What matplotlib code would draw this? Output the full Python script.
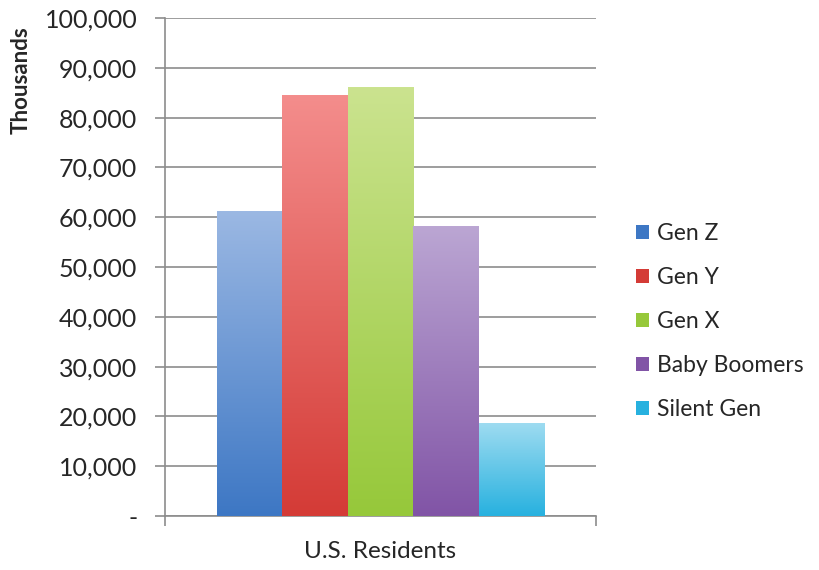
import matplotlib
matplotlib.use('Agg')
import matplotlib.pyplot as plt
import numpy as np
from matplotlib.colors import LinearSegmentedColormap
from matplotlib.ticker import FuncFormatter

# U.S. residents by generation, in thousands
generations = ['Gen Z', 'Gen Y', 'Gen X', 'Baby Boomers', 'Silent Gen']
residents = [61200, 84500, 86100, 58200, 18700]
category = 'U.S. Residents'

# light (top) -> dark (bottom) colour per bar
top_colors = ['#9bb8e3', '#f48d8c', '#cbe38f', '#bba6d3', '#9fdcf1']
bottom_colors = ['#3d77c4', '#d43b36', '#96c83a', '#8154a6', '#27b1df']

plt.rcParams['font.family'] = ['Lato', 'DejaVu Sans']

fig = plt.figure(figsize=(8.19, 5.70), dpi=100)
ax = fig.add_axes([0.2015, 0.0947, 0.5262, 0.8737])

n = len(generations)
width = 0.152
start = 0.5 - width * n / 2
gradient = np.linspace(0, 1, 256).reshape(-1, 1)

for i, (name, val) in enumerate(zip(generations, residents)):
    x0 = start + i * width
    bar = ax.bar(x0, val, width=width, align='edge', color=bottom_colors[i],
                 linewidth=0, label=name, zorder=3)[0]
    cmap = LinearSegmentedColormap.from_list(name, [bottom_colors[i], top_colors[i]])
    im = ax.imshow(gradient, cmap=cmap, aspect='auto', origin='lower',
                   extent=[x0, x0 + width, 0, val], zorder=4)
    im.set_clip_path(bar)

ax.set_xlim(0, 1)
ax.set_ylim(0, 100000)
ax.set_yticks(np.arange(0, 100001, 10000))
ax.yaxis.set_major_formatter(FuncFormatter(lambda v, p: '-' if v == 0 else f'{int(v):,}'))
ax.set_xticks([0, 1])
ax.set_xticklabels(['', ''])
ax.tick_params(axis='y', length=7, width=1.2, color='#8c8c8c', labelsize=18,
               labelcolor='#262626', pad=13)
ax.tick_params(axis='x', length=7, width=1.2, color='#8c8c8c', direction='out')
ax.grid(axis='y', color='#8c8c8c', linewidth=1.2, zorder=0)
ax.set_axisbelow(True)

for side in ['top', 'right']:
    ax.spines[side].set_visible(False)
for side in ['left', 'bottom']:
    ax.spines[side].set_color('#8c8c8c')
    ax.spines[side].set_linewidth(1.2)

fig.text(0.464, 0.032, category, fontsize=17.5, color='#262626',
         ha='center', va='center')
fig.text(0.026, 0.86, 'Thousands', rotation=90, fontsize=16, fontweight='bold',
         color='#262626', ha='center', va='center')

leg = ax.legend(loc='center left', bbox_to_anchor=(1.045, 0.39), frameon=False,
                fontsize=16.5, handlelength=0.55, handleheight=0.55,
                handletextpad=0.35, labelspacing=1.0, labelcolor='#262626')

fig.savefig('out.png', dpi=100)
